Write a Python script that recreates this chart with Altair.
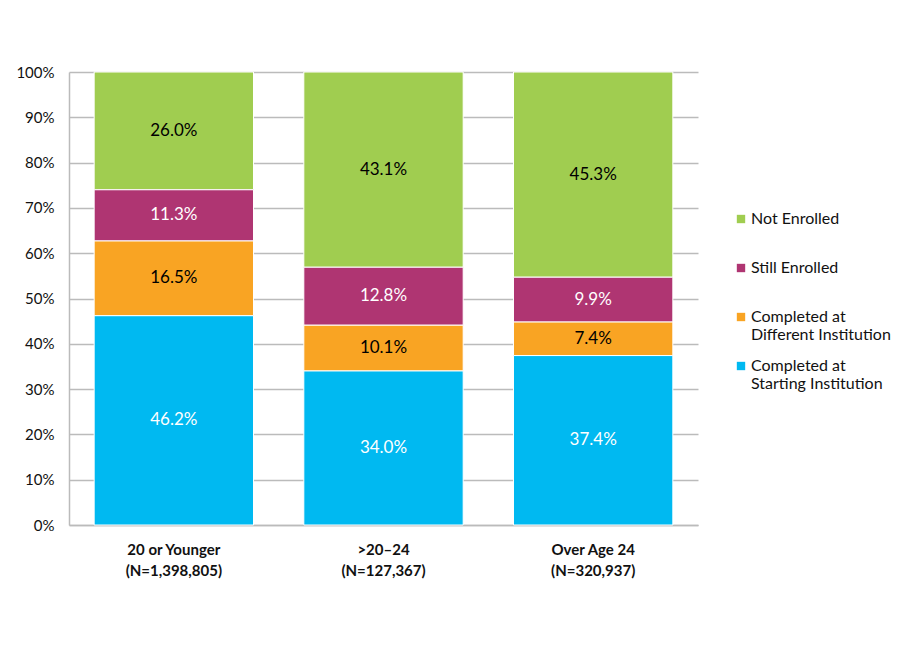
import altair as alt
import pandas as pd

groups = ["20 or Younger|(N=1,398,805)", ">20\u201324|(N=127,367)", "Over Age 24|(N=320,937)"]
statuses = ["Not Enrolled", "Still Enrolled", "Completed at Different Institution", "Completed at Starting Institution"]
colors = ["#A0CD50", "#AF3572", "#F9A423", "#00B9F1"]
text_colors = ["black", "white", "black", "white"]
stack_order = [4, 3, 2, 1]

starting = [46.2, 34.0, 37.4]
different = [16.5, 10.1, 7.4]
still = [11.3, 12.8, 9.9]
not_enrolled = [26.0, 43.1, 45.3]

series = {
    "Not Enrolled": not_enrolled,
    "Still Enrolled": still,
    "Completed at Different Institution": different,
    "Completed at Starting Institution": starting,
}

rows = []
for si, s in enumerate(statuses):
    for gi, g in enumerate(groups):
        rows.append({"group": g, "status": s, "value": series[s][gi],
                     "ord": stack_order[si], "tc": text_colors[si]})
df = pd.DataFrame(rows)

FONT = "Lato"

base = alt.Chart(df).transform_stack(
    stack="value", groupby=["group"], sort=[alt.SortField("ord", order="ascending")], as_=["y0", "y1"]
).transform_calculate(mid="(datum.y0 + datum.y1) / 2", lbl="format(datum.value, '.1f') + '%'")

x_enc = alt.X("group:N", sort=groups, title=None,
              scale=alt.Scale(paddingInner=0.24, paddingOuter=0.12),
              axis=alt.Axis(labelExpr="split(datum.label, '|')", labelAngle=0,
                            labelFont=FONT, labelFontSize=15, labelFontWeight="bold",
                            labelColor="#111111", labelLineHeight=21, labelPadding=17,
                            ticks=False, domainColor="#BBBBBB", domainWidth=1.5, grid=False))

bars = base.mark_bar(stroke="white", strokeWidth=1).encode(
    x=x_enc,
    y=alt.Y("y0:Q", title=None, scale=alt.Scale(domain=[0, 100]),
            axis=alt.Axis(values=list(range(0, 101, 10)), labelExpr="datum.value + '%'",
                          labelFont=FONT, labelFontSize=15, labelColor="#111111",
                          ticks=False, labelPadding=15, domainColor="#BBBBBB", domainWidth=1.5,
                          gridColor="#BBBBBB", gridWidth=1.5)),
    y2="y1:Q",
    color=alt.Color("status:N", sort=statuses,
                    scale=alt.Scale(domain=statuses, range=colors),
                    legend=alt.Legend(title=None, orient="none", legendX=664, legendY=139,
                                      symbolType="square", symbolSize=70, symbolStrokeWidth=0,
                                      labelFont=FONT, labelFontSize=16, labelColor="#111111",
                                      labelOffset=2, rowPadding=15, gridAlign="all",
                                      labelLimit=250, padding=0,
                                      labelExpr="split(replace(datum.label, 'at ', 'at|'), '|')")),
)

labels = base.mark_text(font=FONT, fontSize=17).encode(
    x=alt.X("group:N", sort=groups),
    y="mid:Q",
    text="lbl:N",
    color=alt.Color("tc:N", scale=None),
)

chart = alt.layer(bars, labels).resolve_scale(color="independent").properties(
    width=629, height=453,
    autosize=alt.AutoSizeParams(type="none"),
    padding={"left": 61, "top": 64, "right": 194, "bottom": 110},
).configure_view(stroke=None)

chart.save("out.html", embed_options={"renderer": "svg", "actions": False})
